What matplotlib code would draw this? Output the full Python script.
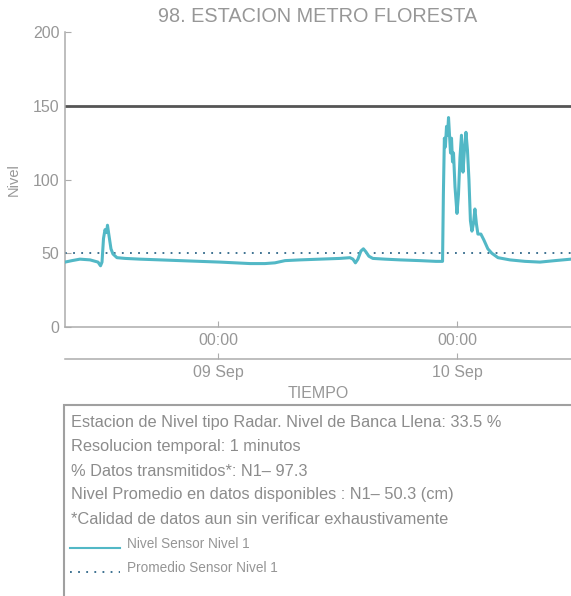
import matplotlib
matplotlib.use("Agg")
import matplotlib.pyplot as plt
import matplotlib.dates as mdates
import matplotlib.patches as mpatches
from matplotlib.lines import Line2D
import pandas as pd

plt.rcParams['font.family'] = ['Liberation Sans', 'DejaVu Sans']

title = "98. ESTACION METRO FLORESTA"
times = [
    "2023-09-08 08:38", "2023-09-08 09:20", "2023-09-08 10:08", "2023-09-08 11:09",
    "2023-09-08 11:57", "2023-09-08 12:12", "2023-09-08 12:21", "2023-09-08 12:30",
    "2023-09-08 12:39", "2023-09-08 12:48", "2023-09-08 12:54", "2023-09-08 13:03",
    "2023-09-08 13:15", "2023-09-08 13:27", "2023-09-08 13:51", "2023-09-08 14:40",
    "2023-09-08 16:10", "2023-09-08 18:11", "2023-09-08 20:11", "2023-09-08 22:11",
    "2023-09-09 00:12", "2023-09-09 01:43", "2023-09-09 03:13", "2023-09-09 04:43",
    "2023-09-09 05:43", "2023-09-09 06:44", "2023-09-09 08:14", "2023-09-09 10:14",
    "2023-09-09 12:15", "2023-09-09 13:15", "2023-09-09 13:33", "2023-09-09 13:48",
    "2023-09-09 14:03", "2023-09-09 14:21", "2023-09-09 14:36", "2023-09-09 14:51",
    "2023-09-09 15:09", "2023-09-09 15:33", "2023-09-09 16:46", "2023-09-09 18:17",
    "2023-09-09 20:17", "2023-09-09 21:53", "2023-09-09 22:33", "2023-09-09 22:38",
    "2023-09-09 22:44", "2023-09-09 22:50", "2023-09-09 22:57", "2023-09-09 23:03",
    "2023-09-09 23:09", "2023-09-09 23:15", "2023-09-09 23:21", "2023-09-09 23:27",
    "2023-09-09 23:33", "2023-09-09 23:39", "2023-09-09 23:48", "2023-09-10 00:00",
    "2023-09-10 00:09", "2023-09-10 00:18", "2023-09-10 00:27", "2023-09-10 00:36",
    "2023-09-10 00:45", "2023-09-10 00:54", "2023-09-10 01:03", "2023-09-10 01:12",
    "2023-09-10 01:21", "2023-09-10 01:30", "2023-09-10 01:39", "2023-09-10 01:48",
    "2023-09-10 01:57", "2023-09-10 02:06", "2023-09-10 02:24", "2023-09-10 02:42",
    "2023-09-10 03:06", "2023-09-10 03:30", "2023-09-10 04:07", "2023-09-10 05:19",
    "2023-09-10 06:50", "2023-09-10 08:20", "2023-09-10 09:50", "2023-09-10 11:27",
]
nivel = [
    44, 45, 46, 45.5,
    44, 41.5, 44, 60,
    66, 64, 69, 62,
    53, 49.5, 47, 46.5,
    46, 45.5, 45, 44.5,
    44, 43.5, 43, 43,
    43.5, 45, 45.5, 46,
    46.5, 47, 46, 43.5,
    46, 51.5, 53, 51,
    48, 46.5, 46, 45.5,
    45, 44.5, 44.5, 90,
    128, 122, 136, 130,
    142, 130, 118, 128,
    112, 118, 95, 77,
    90, 115, 130, 105,
    120, 132, 120, 100,
    72, 65, 70, 80,
    70, 63, 63, 59,
    53, 50, 47, 45.5,
    44.5, 44, 45, 46,
]
promedio = 50.3
banca_llena = 150
yticks = [0, 50, 100, 150, 200]
xticks = ["2023-09-09 00:00", "2023-09-10 00:00"]

info_lines = [
    "Estacion de Nivel tipo Radar. Nivel de Banca Llena: 33.5 %",
    "Resolucion temporal: 1 minutos",
    "% Datos transmitidos*: N1\u2013 97.3",
    "Nivel Promedio en datos disponibles : N1\u2013 50.3 (cm)",
    "*Calidad de datos aun sin verificar exhaustivamente",
]
legend_labels = ["Nivel Sensor Nivel 1", "Promedio Sensor Nivel 1"]

t = pd.to_datetime(times)
xt = pd.to_datetime(xticks)

W, H = 571, 596
fig = plt.figure(figsize=(W / 100, H / 100), dpi=100)
ax = fig.add_axes([65 / W, 1 - 327 / H, 1 - 65 / W, (327 - 32) / H])

gray = '#979797'
teal = '#52b8c6'
dotc = '#2e6688'

ax.plot(t, nivel, color=teal, lw=2.2, solid_joinstyle='round', zorder=3)
ax.axhline(promedio, color=dotc, lw=1.3, linestyle=(0, (1, 3.5)), zorder=2)
ax.axhline(banca_llena, color='#555555', lw=2.0, zorder=2)

ax.set_xlim(t[0], t[-1])
ax.set_ylim(0, 200)
ax.set_yticks(yticks)
ax.set_xticks(xt)
ax.xaxis.set_major_formatter(mdates.DateFormatter('%H:%M'))

for s in ['top', 'right']:
    ax.spines[s].set_visible(False)
for s in ['left', 'bottom']:
    ax.spines[s].set_color('#acacac')
    ax.spines[s].set_linewidth(1.1)
ax.tick_params(axis='both', direction='in', length=4, color='#acacac',
               labelcolor=gray, labelsize=11.5, pad=4)

sec = ax.secondary_xaxis(-32 / 295)
sec.set_xticks(xt)
sec.xaxis.set_major_formatter(mdates.DateFormatter('%d %b'))
sec.spines['bottom'].set_color('#acacac')
sec.spines['bottom'].set_linewidth(1.1)
sec.tick_params(axis='x', direction='in', length=4, color='#acacac',
                labelcolor=gray, labelsize=11.5, pad=4)

fig.text(14 / W, 1 - 180 / H, "Nivel", color=gray, fontsize=10.5,
         rotation=90, ha='center', va='center')
fig.text((65 + 571) / 2 / W, 1 - 393 / H, "TIEMPO", color=gray, fontsize=11.5,
         ha='center', va='center')
fig.text((65 + 571) / 2 / W, 1 - 16 / H, title, color=gray, fontsize=14.3,
         ha='center', va='center')

rect = mpatches.Rectangle((64 / W, -0.02), 1.0, 1 - 405 / H + 0.02,
                          transform=fig.transFigure, fill=False,
                          edgecolor='#a0a0a0', lw=1.5)
fig.patches.append(rect)

for i, line in enumerate(info_lines):
    fig.text(71 / W, 1 - (423 + 24 * i) / H, line, color='#8c8c8c',
             fontsize=11.8, ha='left', va='center')

fig.lines.append(Line2D([70 / W, 120 / W], [1 - 548 / H] * 2, transform=fig.transFigure,
                        color=teal, lw=1.5))
fig.lines.append(Line2D([70 / W, 120 / W], [1 - 572 / H] * 2, transform=fig.transFigure,
                        color=dotc, lw=1.3, linestyle=(0, (1, 3.5))))
fig.text(127 / W, 1 - 544 / H, legend_labels[0], color='#959595', fontsize=9.8,
         ha='left', va='center')
fig.text(127 / W, 1 - 568 / H, legend_labels[1], color='#959595', fontsize=9.8,
         ha='left', va='center')

fig.savefig("out.png", dpi=100)
